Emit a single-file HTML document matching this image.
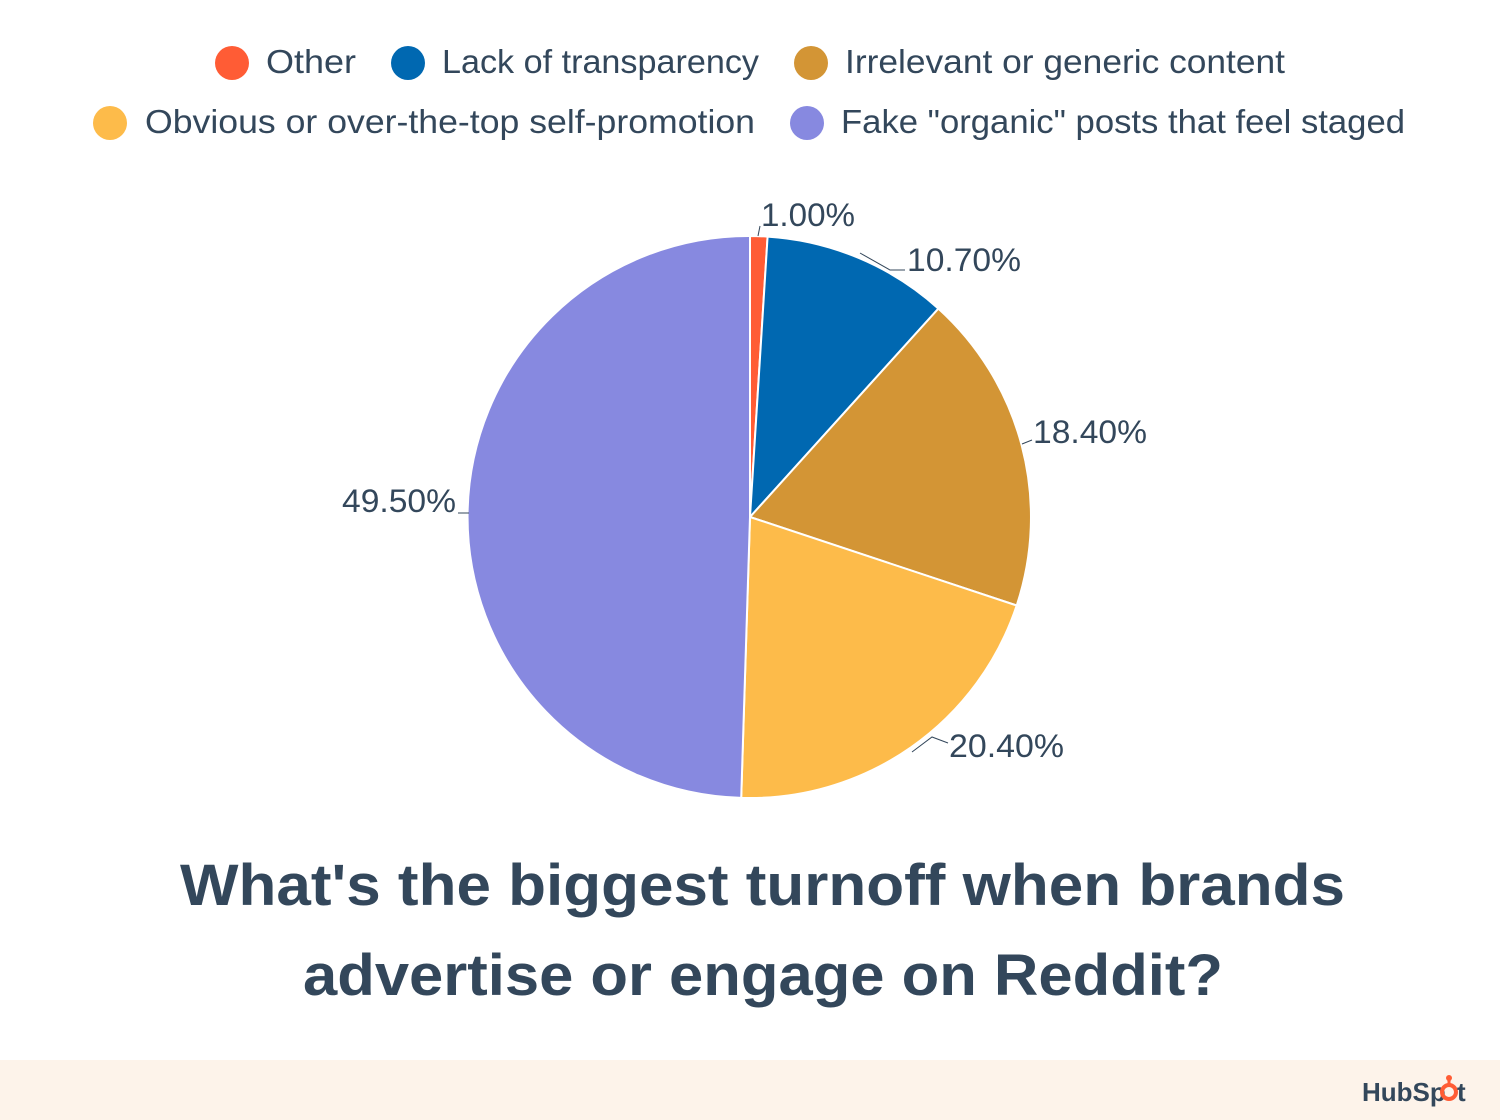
<!DOCTYPE html>
<html><head><meta charset="utf-8"><style>
html,body{margin:0;padding:0;background:#fff;}
svg{display:block;font-family:"Liberation Sans",sans-serif;}
</style></head><body>
<svg width="1500" height="1120" viewBox="0 0 1500 1120">
<rect width="1500" height="1060" fill="#fff"/>
<rect y="1060" width="1500" height="60" fill="#fdf3ea"/>
<g font-size="33" fill="#33475b">
<circle cx="232" cy="63" r="17" fill="#ff5c35"/><text x="266" y="73" textLength="90" lengthAdjust="spacingAndGlyphs">Other</text>
<circle cx="408" cy="63" r="17" fill="#0068b1"/><text x="442" y="73" textLength="317" lengthAdjust="spacingAndGlyphs">Lack of transparency</text>
<circle cx="811" cy="63" r="17" fill="#d39535"/><text x="845" y="73" textLength="440" lengthAdjust="spacingAndGlyphs">Irrelevant or generic content</text>
<circle cx="110" cy="123" r="17" fill="#fdbb4a"/><text x="145" y="133" textLength="610" lengthAdjust="spacingAndGlyphs">Obvious or over-the-top self-promotion</text>
<circle cx="807" cy="123" r="17" fill="#8789e0"/><text x="841" y="133" textLength="564" lengthAdjust="spacingAndGlyphs">Fake "organic" posts that feel staged</text>
</g>
<g stroke="#fff" stroke-width="2">
<path d="M750,517 L750,236 A281,281 0 0 1 767.6,236.6 Z" fill="#ff5c35"/>
<path d="M750,517 L767.6,236.6 A281,281 0 0 1 938.4,308.6 Z" fill="#0068b1"/>
<path d="M750,517 L938.4,308.6 A281,281 0 0 1 1016.7,605.5 Z" fill="#d39535"/>
<path d="M750,517 L1016.7,605.5 A281,281 0 0 1 741.2,797.9 Z" fill="#fdbb4a"/>
<path d="M750,517 L741.2,797.9 A281,281 0 0 1 750,236 Z" fill="#8789e0"/>
</g>
<g stroke="#33475b" stroke-width="1" fill="none">
<path d="M758,236 L760,226"/>
<path d="M860,253 L890,270 L905,270"/>
<path d="M1022,444 L1032,440"/>
<path d="M912,752 L932,737 L948,743"/>
<path d="M469,513 L458,513"/>
</g>
<g font-size="32" fill="#33475b">
<text x="761" y="226" textLength="94" lengthAdjust="spacingAndGlyphs">1.00%</text>
<text x="907" y="271" textLength="114" lengthAdjust="spacingAndGlyphs">10.70%</text>
<text x="1033" y="443" textLength="114" lengthAdjust="spacingAndGlyphs">18.40%</text>
<text x="949" y="757" textLength="115" lengthAdjust="spacingAndGlyphs">20.40%</text>
<text x="342" y="512" textLength="114" lengthAdjust="spacingAndGlyphs">49.50%</text>
</g>
<g font-size="58" font-weight="bold" fill="#33475b">
<text x="180" y="905" textLength="1165" lengthAdjust="spacingAndGlyphs">What's the biggest turnoff when brands</text>
<text x="303" y="995" textLength="920" lengthAdjust="spacingAndGlyphs">advertise or engage on Reddit?</text>
</g>
<text x="1362" y="1101" font-size="26" font-weight="bold" fill="#33475b">HubSp</text>
<circle cx="1449" cy="1092" r="7" fill="none" stroke="#ff5c35" stroke-width="4"/>
<line x1="1449" y1="1085" x2="1449" y2="1079" stroke="#ff5c35" stroke-width="3"/>
<circle cx="1449" cy="1078" r="3" fill="#ff5c35"/>
<text x="1457" y="1101" font-size="26" font-weight="bold" fill="#33475b">t</text>
</svg>
</body></html>
